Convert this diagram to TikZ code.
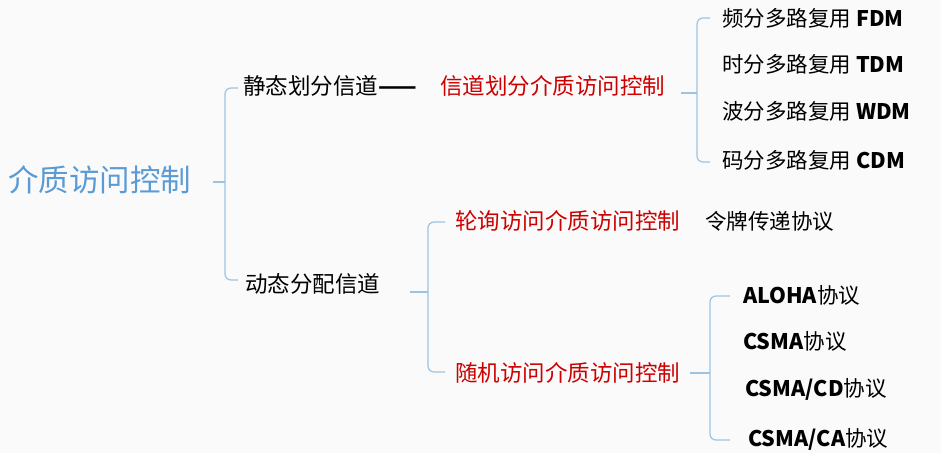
\documentclass[tikz,border=0pt]{standalone}
\usepackage{fontspec}
\setmainfont{Noto Sans CJK SC}
\definecolor{rootc}{HTML}{5B9BD5}
\definecolor{brc}{HTML}{9DC3E0}
\begin{document}
\begin{tikzpicture}[x=1pt,y=-1pt,
  br/.style={draw=brc,line width=1.2pt,rounded corners=6pt},
  t/.style={anchor=west,inner sep=0pt,font=\fontsize{22.5}{26}\selectfont},
  r/.style={t,text=red!80!black},
  s/.style={t,font=\fontsize{21.5}{25}\selectfont}]
\fill[white!96!gray] (0,0) rectangle (941,453);
\useasboundingbox (0,0) rectangle (941,453);
\node[t,text=rootc,font=\fontsize{30.5}{34}\selectfont] (root) at (8,180) {介质访问控制};
\coordinate (b1) at (213,182);
\draw[br] (b1) -- (225,182);
\draw[br] (238,88) -- (225,88) -- (225,280) -- (238,280);
\node[t] (st) at (243,86) {静态划分信道\textbf{——}};
\node[r] (st2) at (440,86) {信道划分介质访问控制};
\coordinate (b2) at (681,93);
\draw[br] (b2) -- (697,93);
\draw[br] (710,18) -- (697,18) -- (697,162) -- (710,162);
\node[s] (f) at (722,18) {频分多路复用 \textbf{FDM}};
\node[s] (ti) at (722,64) {时分多路复用 \textbf{TDM}};
\node[s] (w) at (722,111) {波分多路复用 \textbf{WDM}};
\node[s] (c) at (722,160) {码分多路复用 \textbf{CDM}};
\node[t] (dy) at (245,284) {动态分配信道};
\coordinate (b3) at (410,292);
\draw[br] (b3) -- (428,292);
\draw[br] (445,222) -- (428,222) -- (428,372) -- (445,372);
\node[r] (lx) at (455,221) {轮询访问介质访问控制};
\node[s] (lp) at (705,221) {令牌传递协议};
\node[r] (sj) at (455,373) {随机访问介质访问控制};
\coordinate (b4) at (690,373);
\draw[br] (b4) -- (710,373);
\draw[br] (730,296) -- (710,296) -- (710,440) -- (730,440);
\node[s] (a) at (743,295) {\textbf{ALOHA}协议};
\node[s] (c1) at (743,341) {\textbf{CSMA}协议};
\node[s] (c2) at (745,389) {\textbf{CSMA/CD}协议};
\node[s] (c3) at (748,439) {\textbf{CSMA/CA}协议};
\end{tikzpicture}
\end{document}
